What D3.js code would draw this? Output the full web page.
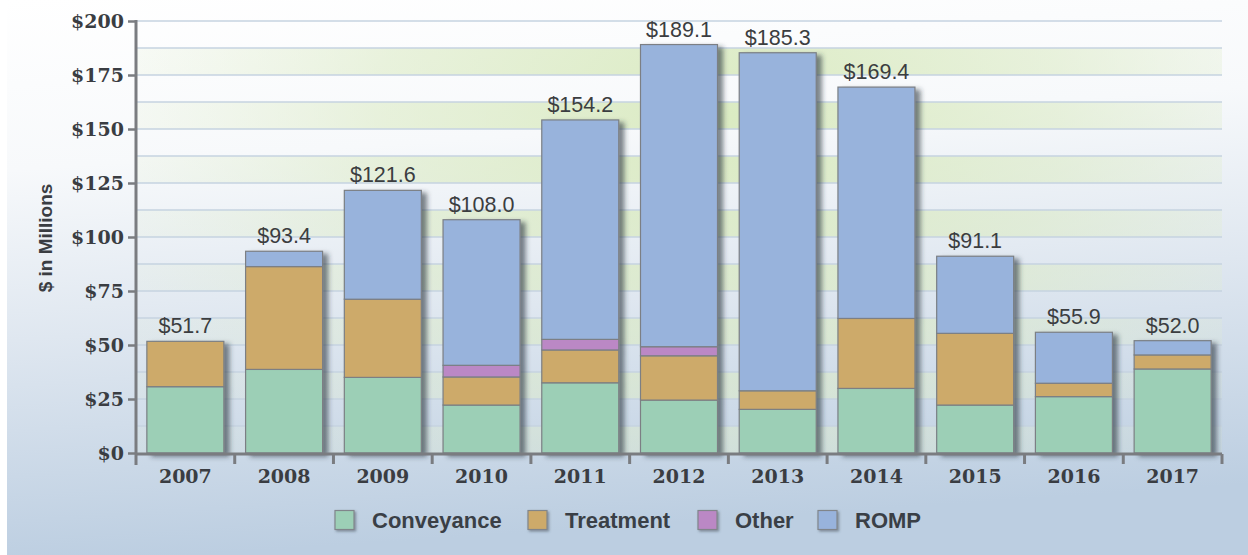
<!DOCTYPE html>
<html>
<head>
<meta charset="utf-8">
<script src="https://cdn.jsdelivr.net/npm/d3@7/dist/d3.min.js"></script>
<style>
  html, body { margin: 0; padding: 0; background: #ffffff; }
  svg { display: block; }
</style>
</head>
<body>
<svg id="chart" width="1248" height="555"></svg>
<script>
// Capital spending by program, $ in millions
const years = ["2007", "2008", "2009", "2010", "2011", "2012", "2013", "2014", "2015", "2016", "2017"];
const seriesNames = ["Conveyance", "Treatment", "Other", "ROMP"];
const conveyance = [30.7, 38.7, 35.0, 22.2, 32.5, 24.5, 20.2, 29.9, 22.2, 26.1, 38.9];
const treatment  = [21.0, 47.6, 36.2, 13.0, 15.2, 20.5, 8.6, 32.4, 33.2, 6.2, 6.5];
const other      = [0.0, 0.0, 0.0, 5.4, 4.9, 4.2, 0.0, 0.0, 0.0, 0.0, 0.0];
const romp       = [0.0, 7.1, 50.4, 67.4, 101.6, 139.9, 156.5, 107.1, 35.7, 23.6, 6.6];
const yTicks = [0, 25, 50, 75, 100, 125, 150, 175, 200];
const seriesColors = ["#9ccfb6", "#cdaa6a", "#bb88c5", "#98b3dc"];

const rows = years.map((y, i) => ({
  year: y,
  Conveyance: conveyance[i],
  Treatment: treatment[i],
  Other: other[i],
  ROMP: romp[i]
}));

const svg = d3.select("#chart");
const W = 1248, H = 555;
const margin = { left: 136, top: 21 };
const plotRight = 1222;
const plotBottom = 453;
const serif = "DejaVu Serif, Georgia, serif";
const sans = "Liberation Sans, Arial, sans-serif";
const axisGrey = "#7a7c80";

const defs = svg.append("defs");

// page background: white at top fading to pale steel blue
const bg = defs.append("linearGradient").attr("id", "bgGrad")
  .attr("x1", 0).attr("y1", 0).attr("x2", 0.15).attr("y2", 1);
bg.append("stop").attr("offset", "0").attr("stop-color", "#ffffff");
bg.append("stop").attr("offset", "0.3").attr("stop-color", "#f7f9fb");
bg.append("stop").attr("offset", "0.6").attr("stop-color", "#dfe7f0");
bg.append("stop").attr("offset", "1").attr("stop-color", "#bccee1");

// soft green tint for alternating grid bands
const bandGrad = defs.append("radialGradient").attr("id", "bandGrad")
  .attr("gradientUnits", "userSpaceOnUse")
  .attr("cx", 720).attr("cy", 120).attr("r", 620)
  .attr("gradientTransform", "translate(720,120) scale(1,0.75) translate(-720,-120)");
bandGrad.append("stop").attr("offset", "0").attr("stop-color", "#d9eabf").attr("stop-opacity", 0.95);
bandGrad.append("stop").attr("offset", "0.55").attr("stop-color", "#dcebc6").attr("stop-opacity", 0.6);
bandGrad.append("stop").attr("offset", "1").attr("stop-color", "#e2eed2").attr("stop-opacity", 0.15);

const shadow = defs.append("filter").attr("id", "barShadow")
  .attr("x", "-10%").attr("y", "-10%").attr("width", "135%").attr("height", "130%");
shadow.append("feDropShadow").attr("dx", 5).attr("dy", 3)
  .attr("stdDeviation", 2.5).attr("flood-color", "#28323c").attr("flood-opacity", 0.6);

const swatchShadow = defs.append("filter").attr("id", "swatchShadow")
  .attr("x", "-20%").attr("y", "-20%").attr("width", "160%").attr("height", "160%");
swatchShadow.append("feDropShadow").attr("dx", 1.5).attr("dy", 1.5)
  .attr("stdDeviation", 1).attr("flood-color", "#3a4450").attr("flood-opacity", 0.5);

svg.append("rect").attr("x", 0).attr("y", 0).attr("width", W).attr("height", H).attr("fill", "#ffffff");
svg.append("rect").attr("x", 7).attr("y", 0).attr("width", W - 7).attr("height", H).attr("fill", "url(#bgGrad)");

// scales
const x = d3.scaleBand().domain(years)
  .range([margin.left, plotRight])
  .paddingInner(0.22).paddingOuter(0.11);
const y = d3.scaleLinear().domain([0, 200]).range([plotBottom, margin.top]);

// alternating bands every half tick
const halfStep = 12.5;
const bandStarts = d3.range(0, 200, 25);
svg.append("g").selectAll("rect").data(bandStarts).join("rect")
  .attr("x", margin.left)
  .attr("width", plotRight - margin.left)
  .attr("y", d => y(d + halfStep))
  .attr("height", d => y(d) - y(d + halfStep))
  .attr("fill", "url(#bandGrad)");

// horizontal gridlines
const gridVals = d3.range(halfStep, 200 + 0.01, halfStep);
svg.append("g").selectAll("line").data(gridVals).join("line")
  .attr("x1", margin.left).attr("x2", plotRight)
  .attr("y1", d => y(d)).attr("y2", d => y(d))
  .attr("stroke", "#c6d3e1").attr("stroke-width", 1.3);

// stacked bars
const stack = d3.stack().keys(seriesNames);
const layers = stack(rows);
const color = d3.scaleOrdinal().domain(seriesNames).range(seriesColors);

const barGroups = svg.append("g").selectAll("g.bar").data(rows).join("g")
  .attr("class", "bar")
  .attr("filter", "url(#barShadow)");

barGroups.each(function (d, i) {
  const g = d3.select(this);
  layers.forEach(layer => {
    const seg = layer[i];
    if (seg[1] - seg[0] <= 0) return;
    g.append("rect")
      .attr("x", x(d.year))
      .attr("width", x.bandwidth())
      .attr("y", y(seg[1]))
      .attr("height", y(seg[0]) - y(seg[1]))
      .attr("fill", color(layer.key))
      .attr("stroke", "#7b7f84")
      .attr("stroke-width", 1.2);
  });
});

// total labels
const fmt = d3.format(".1f");
svg.append("g").selectAll("text").data(rows).join("text")
  .attr("x", d => x(d.year) + x.bandwidth() / 2)
  .attr("y", d => y(d3.sum(seriesNames, k => d[k])) - 8)
  .attr("text-anchor", "middle")
  .attr("font-family", sans)
  .attr("font-size", 21.5)
  .attr("fill", "#3b3d40")
  .text(d => "$" + fmt(d3.sum(seriesNames, k => d[k])));

// y axis
const yAxis = d3.axisLeft(y).tickValues(yTicks).tickSize(8).tickPadding(4)
  .tickFormat(d => "$" + d);
const yg = svg.append("g").attr("transform", `translate(${margin.left},0)`).call(yAxis);
yg.select(".domain").remove();
yg.selectAll(".tick line").attr("stroke", axisGrey).attr("stroke-width", 2.5);
yg.selectAll(".tick text")
  .attr("font-family", serif)
  .attr("font-weight", "bold")
  .attr("font-size", 19)
  .attr("fill", "#3a3d42");
svg.append("line")
  .attr("x1", margin.left).attr("x2", margin.left)
  .attr("y1", y(200) - 1).attr("y2", plotBottom + 12)
  .attr("stroke", axisGrey).attr("stroke-width", 3);

// x axis
const xg = svg.append("g").attr("transform", `translate(0,${plotBottom + 1})`)
  .call(d3.axisBottom(x).tickSize(0).tickPadding(16));
xg.select(".domain").remove();
xg.selectAll(".tick text")
  .attr("font-family", serif)
  .attr("font-weight", "bold")
  .attr("font-size", 19)
  .attr("fill", "#3a3d42");
svg.append("line")
  .attr("x1", margin.left).attr("x2", plotRight)
  .attr("y1", plotBottom + 1).attr("y2", plotBottom + 1)
  .attr("stroke", axisGrey).attr("stroke-width", 3);
const boundaries = years.map(yr => x(yr) - x.step() * x.paddingInner() / 2).slice(1).concat([plotRight]);
svg.append("g").selectAll("line").data(boundaries).join("line")
  .attr("x1", d => d).attr("x2", d => d)
  .attr("y1", plotBottom + 1).attr("y2", plotBottom + 11)
  .attr("stroke", axisGrey).attr("stroke-width", 3);

// y axis title
svg.append("text")
  .attr("transform", "translate(52,238) rotate(-90)")
  .attr("text-anchor", "middle")
  .attr("font-family", sans)
  .attr("font-weight", "bold")
  .attr("font-size", 19)
  .attr("fill", "#3a3d42")
  .text("$ in Millions");

// legend
const legend = svg.append("g").attr("transform", "translate(0,520)");
const legendX = [335, 528, 698, 818];
seriesNames.forEach((name, i) => {
  const item = legend.append("g").attr("transform", `translate(${legendX[i]},0)`);
  item.append("rect")
    .attr("x", 0).attr("y", -9.5).attr("width", 19).attr("height", 19)
    .attr("fill", seriesColors[i])
    .attr("stroke", "#80858b").attr("stroke-width", 1.2)
    .attr("filter", "url(#swatchShadow)");
  item.append("text")
    .attr("x", 37).attr("y", 8)
    .attr("font-family", sans)
    .attr("font-weight", "bold")
    .attr("font-size", 22)
    .attr("fill", "#3a3f46")
    .text(name);
});
</script>
</body>
</html>
